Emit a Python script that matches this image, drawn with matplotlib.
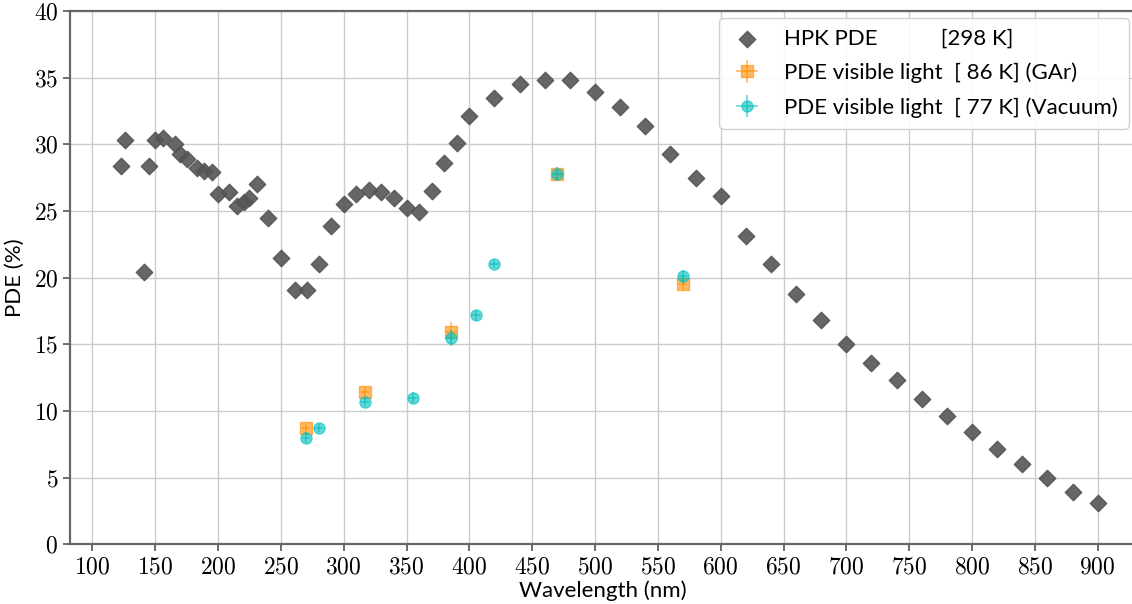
import numpy as np
import matplotlib
matplotlib.use("Agg")
import matplotlib.pyplot as plt
from matplotlib.ticker import FuncFormatter, MultipleLocator

plt.rcParams['mathtext.fontset'] = 'cm'
plt.rcParams['font.family'] = ['Lato', 'DejaVu Sans']

# HPK datasheet PDE at room temperature
hpk_wl = [123, 126, 141, 145, 150, 156, 166, 170, 175, 183, 189, 195, 200, 209, 215, 221, 225, 231,
          240, 250, 261, 271, 280, 290, 300, 310, 320, 330, 340, 350, 360, 370, 380, 390, 400,
          420, 440, 460, 480, 500, 520, 540, 560, 580, 600, 620, 640, 660, 680, 700, 720, 740,
          760, 780, 800, 820, 840, 860, 880, 900]
hpk_pde = [28.4, 30.3, 20.4, 28.4, 30.3, 30.5, 30.0, 29.3, 28.9, 28.2, 28.0, 27.9, 26.3, 26.4, 25.4, 25.7, 26.0, 27.0,
           24.5, 21.5, 19.1, 19.1, 21.0, 23.9, 25.5, 26.3, 26.6, 26.4, 26.0, 25.2, 24.9, 26.5, 28.6, 30.1, 32.1,
           33.5, 34.5, 34.8, 34.8, 33.9, 32.8, 31.4, 29.3, 27.5, 26.1, 23.1, 21.0, 18.8, 16.8, 15.0, 13.6, 12.3,
           10.9, 9.6, 8.45, 7.15, 6.0, 5.0, 3.9, 3.1]

# visible light measurement in GAr (86 K)
gar_wl = [270, 317, 385, 470, 570]
gar_pde = [8.7, 11.4, 15.9, 27.8, 19.5]
gar_err = [0.4, 0.4, 0.8, 0.5, 0.4]

# visible light measurement in vacuum (77 K)
vac_wl = [270, 280, 317, 355, 385, 405, 420, 470, 570]
vac_pde = [8.0, 8.7, 10.7, 11.0, 15.5, 17.2, 21.0, 27.8, 20.1]
vac_err = [0.4, 0.3, 0.3, 0.4, 0.6, 0.4, 0.3, 0.5, 0.5]

wl_err = 3.5

fig = plt.figure(figsize=(11.32, 6.04), dpi=100)
ax = fig.add_axes([70/1132, 1-544.4/604, 1.0-70/1132+0.003, (544.4-11.1)/604])

ax.scatter(hpk_wl, hpk_pde, marker='D', s=70, color='#555555', alpha=0.9, zorder=3,
           label='HPK PDE           [298 K]')
ax.errorbar(gar_wl, gar_pde, yerr=gar_err, xerr=wl_err, fmt='s', ms=8, color='darkorange', alpha=0.6,
            elinewidth=1.2, zorder=4, label='PDE visible light  [ 86 K] (GAr)')
ax.errorbar(vac_wl, vac_pde, yerr=vac_err, xerr=wl_err, fmt='o', ms=8, color='c', alpha=0.6,
            elinewidth=1.2, zorder=5, label='PDE visible light  [ 77 K] (Vacuum)')

ax.set_xlim(82.2, 930)
ax.set_ylim(0, 40)
ax.xaxis.set_major_locator(MultipleLocator(50))
ax.yaxis.set_major_locator(MultipleLocator(5))
fmt = FuncFormatter(lambda v, p: r'$%d$' % v)
ax.xaxis.set_major_formatter(fmt)
ax.yaxis.set_major_formatter(fmt)
ax.tick_params(labelsize=17, color='#555555', length=5, width=1.2)
ax.grid(True, color='#cccccc', linewidth=1.0)
ax.set_axisbelow(True)
for s in ['left', 'bottom', 'top']:
    ax.spines[s].set_color('#666666')
    ax.spines[s].set_linewidth(1.6)
ax.spines['right'].set_visible(False)

ax.set_xlabel('Wavelength (nm)', fontsize=16, labelpad=2)
ax.set_ylabel('PDE (%)', fontsize=16, labelpad=6)
ax.legend(loc='upper right', fontsize=16, framealpha=0.9, edgecolor='#cccccc',
          handletextpad=0.9, borderaxespad=0.3, labelspacing=0.62, handlelength=1.5,
          borderpad=0.5)

fig.savefig('out.png', dpi=100)
